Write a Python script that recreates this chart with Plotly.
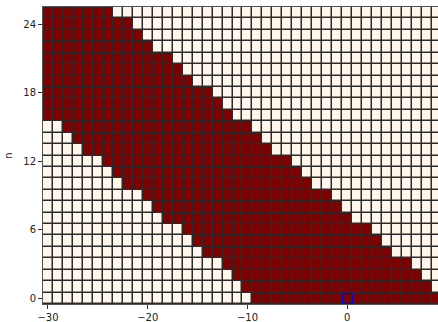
import plotly.graph_objects as go

# Values
x_values = list(range(-30, 10))          # columns -30 .. 9
n_values = list(range(0, 26))            # rows 0 .. 25

# first dark column in each row n (0..25)
lower_bound = [-9, -10, -11, -12, -14, -15, -16, -18, -19, -20, -22, -23, -24,
               -26, -27, -28, -30, -30, -30, -30, -30, -30, -30, -30, -30, -30]
# last dark column in each row n (0..25)
upper_bound = [10, 8, 7, 6, 4, 3, 2, 0, -1, -2, -4, -5, -6,
               -8, -9, -10, -12, -13, -14, -16, -17, -18, -20, -21, -22, -24]

highlight_x = [0]
highlight_n = [0]

x_ticks = [-30, -20, -10, 0]
n_ticks = [0, 6, 12, 18, 24]

z = [[1 if lo <= x <= hi else 0 for x in x_values]
     for lo, hi in zip(lower_bound, upper_bound)]

fig = go.Figure()
fig.add_trace(go.Heatmap(
    x=x_values, y=n_values, z=z,
    colorscale=[[0, "#fff7ec"], [1, "#7f0000"]],
    zmin=0, zmax=1, showscale=False,
    xgap=1.5, ygap=1.5, hoverinfo="skip",
))
fig.add_trace(go.Scatter(
    x=highlight_x, y=highlight_n, mode="markers",
    marker=dict(symbol="square-open", size=10, color="#0000ff",
                line=dict(width=1.2, color="#0000ff")),
    showlegend=False, hoverinfo="skip",
))

axis_font = dict(family="DejaVu Sans", size=10, color="#222")
fig.update_layout(
    width=438, height=322,
    margin=dict(l=43, r=0, t=7, b=18),
    paper_bgcolor="white", plot_bgcolor="#2a2a2a",
    font=axis_font, showlegend=False,
    xaxis=dict(range=[-30.5, 9.1], tickvals=x_ticks, ticks="outside",
               ticklen=4, tickwidth=1, tickcolor="#333", showgrid=False,
               zeroline=False, showline=True, linecolor="#555",
               linewidth=1, mirror=True, tickfont=axis_font),
    yaxis=dict(range=[-0.5, 25.5], tickvals=n_ticks, ticks="outside",
               ticklen=4, tickwidth=1, tickcolor="#333", showgrid=False,
               zeroline=False, showline=True, linecolor="#555",
               linewidth=1, tickfont=axis_font,
               title=dict(text="n", font=axis_font, standoff=8)),
)
fig.write_html("out.html")
